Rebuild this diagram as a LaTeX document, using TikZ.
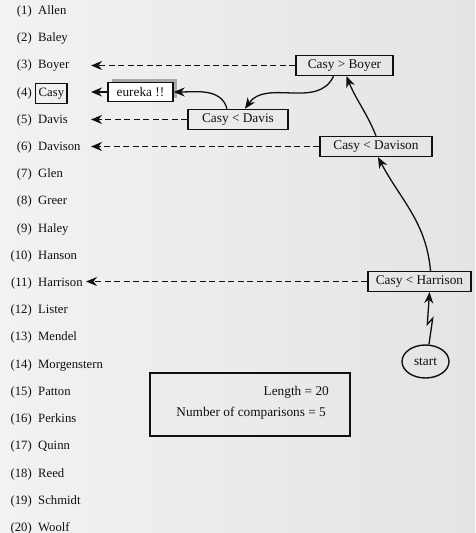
\documentclass[tikz,border=0pt]{standalone}
\usepackage{fontspec}
\setmainfont{Liberation Serif}
\usetikzlibrary{arrows.meta,shapes.geometric}
\definecolor{bgl}{HTML}{F2F2F2}
\definecolor{bgr}{HTML}{E4E4E4}
\definecolor{ink}{HTML}{101010}
\definecolor{shadowgray}{HTML}{A8A8A8}
\begin{document}
\begin{tikzpicture}[x=1pt,y=-1pt,
  every node/.style={font=\fontsize{13.3}{15}\selectfont, text=ink},
  num/.style={anchor=mid east, inner sep=0pt, font=\fontsize{12.7}{15}\selectfont},
  itemname/.style={anchor=mid west, inner sep=0pt, font=\fontsize{12.7}{15}\selectfont},
  cmpbox/.style={draw=ink, line width=1.4pt, minimum height=20pt, inner sep=2pt},
  tip/.style={-{Stealth[length=11pt,width=9pt,inset=3.5pt]}},
  dasharrow/.style={tip, dash pattern=on 6pt off 3.5pt, line width=1.3pt, draw=ink},
  solidarrow/.style={tip, line width=1.3pt, draw=ink},
]
\shade[left color=bgl, right color=bgr] (0,0) rectangle (475,533);
\useasboundingbox (0,0) rectangle (475,533);

% list
\foreach \i/\n in {1/Allen,2/Baley,3/Boyer,5/Davis,6/Davison,7/Glen,8/Greer,9/Haley,10/Hanson,11/Harrison,12/Lister,13/Mendel,14/Morgenstern,15/Patton,16/Perkins,17/Quinn,18/Reed,19/Schmidt,20/Woolf}{
  \node[num] (n\i) at (32,{12.3+(\i-1)*27.2}) {(\i)};
  \node[itemname] (m\i) at (38,{12.3+(\i-1)*27.2}) {\n};
}
\node[num] (n4) at (32,{12.3+3*27.2}) {(4)};
\node[itemname, draw=ink, line width=1.4pt, inner xsep=3pt, minimum height=20pt] (m4) at (35,{12.3+3*27.2}) {Casy};

% arrow targets
\coordinate (t3) at (91,64);
\coordinate (t4) at (91,92);
\coordinate (t5) at (91,119);
\coordinate (t6) at (91,146);
\coordinate (t11) at (86,282);

% comparison boxes
\node[cmpbox, minimum width=97pt] (boyer) at (344.5,65.5) {Casy > Boyer};
\node[cmpbox, minimum width=100pt] (davis) at (238,119.5) {Casy < Davis};
\node[cmpbox, minimum width=112pt] (davison) at (376,146.5) {Casy < Davison};
\node[cmpbox, minimum width=103pt] (harrison) at (419.5,281.5) {Casy < Harrison};

% eureka with shadow
\fill[shadowgray] (112,79) rectangle (177,98);
\node[draw=ink, line width=1.4pt, fill=white, minimum width=65pt, minimum height=19pt, inner sep=2pt] (eureka) at (140.5,92) {eureka !!};

% start
\node[ellipse, draw=ink, line width=1.4pt, minimum width=47pt, minimum height=33pt, inner sep=0pt] (start) at (425.5,361.5) {start};

% info box
\node[draw=ink, line width=1.4pt, minimum width=200pt, minimum height=63pt] (info) at (250,404.5) {};
\node[anchor=mid east, inner sep=0pt] (len) at (329,393.5) {Length = 20};
\node[anchor=mid east, inner sep=0pt] (cmp) at (326,414.5) {Number of comparisons = 5};

% dashed arrows
\draw[dasharrow] (boyer.west) -- (boyer.west -| t3);
\draw[dasharrow] (davis.west) -- (davis.west -| t5);
\draw[dasharrow] (davison.west) -- (davison.west -| t6);
\draw[dasharrow] (harrison.west) -- (harrison.west -| t11);
\draw[solidarrow] (eureka.west) -- (eureka.west -| t4);

% search path
\draw[solidarrow] ([xshift=3.5pt]start.north) -- ++(3.7,-26) -- ++(-5.4,6) -- ([xshift=10pt]harrison.south);
\draw[solidarrow] ([xshift=11pt]harrison.north) to[out=95,in=-62] ([xshift=2pt]davison.south);
\draw[solidarrow] (davison.north) to[out=112,in=-68] ([xshift=2pt]boyer.south);
\draw[solidarrow] ([xshift=-11pt]boyer.south) to[out=-115,in=55] ([xshift=7pt]davis.north);
\draw[solidarrow] ([xshift=-11pt]davis.north) to[out=105,in=0] (eureka.east);
\end{tikzpicture}
\end{document}
